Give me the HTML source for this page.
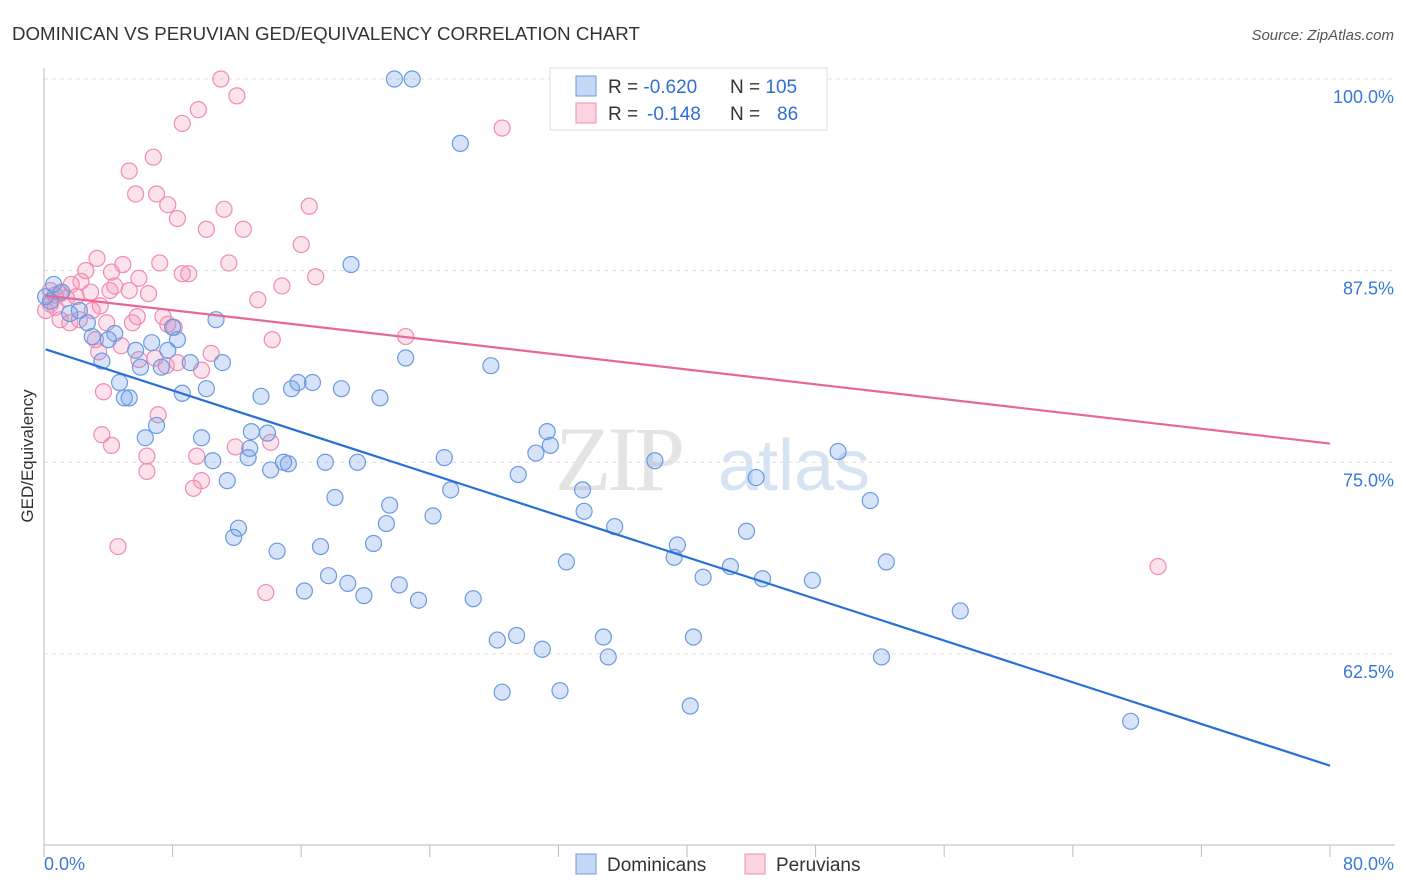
<!DOCTYPE html>
<html><head><meta charset="utf-8"><style>
body{margin:0;background:#fff;font-family:"Liberation Sans",sans-serif}
svg{display:block}
</style></head><body>
<svg id="chart" width="1406" height="892" xmlns="http://www.w3.org/2000/svg">
<text x="12" y="40" font-size="18.7" fill="#333">DOMINICAN VS PERUVIAN GED/EQUIVALENCY CORRELATION CHART</text>
<text x="1394" y="40" font-size="15" fill="#555" text-anchor="end" font-style="italic">Source: ZipAtlas.com</text>
<g><text x="555" y="490" font-size="92" fill="#e4e4e4" font-family="Liberation Serif" letter-spacing="-4">ZIP</text><text x="718" y="490" font-size="72" fill="#d6e3f3">atlas</text></g>
<g id="grid"></g>
<g id="axes"></g>
<g id="pts"></g>
<g id="lines"></g>
<text x="33" y="456" font-size="17" fill="#333" text-anchor="middle" transform="rotate(-90 33 456)">GED/Equivalency</text>
<g>
<rect x="550" y="68" width="277" height="62" fill="#fff" stroke="#ddd"/>
<rect x="576" y="76" width="20" height="20" fill="#c5d9f5" stroke="#6a9be0"/>
<rect x="576" y="103" width="20" height="20" fill="#fbd3e1" stroke="#f08cb0"/>
<text x="608" y="93" font-size="19" fill="#333">R = <tspan fill="#2f6fd6">-0.620</tspan><tspan x="730">N = </tspan><tspan fill="#2f6fd6">105</tspan></text>
<text x="608" y="120" font-size="19" fill="#333">R = <tspan x="647" fill="#2f6fd6">-0.148</tspan><tspan x="730">N = </tspan><tspan x="777" fill="#2f6fd6">86</tspan></text>
</g>
<g>
<rect x="576" y="854" width="20" height="20" fill="#c5d9f5" stroke="#6a9be0"/>
<text x="607" y="871" font-size="19" fill="#333">Dominicans</text>
<rect x="745" y="854" width="20" height="20" fill="#fbd3e1" stroke="#f08cb0"/>
<text x="776" y="871" font-size="19" fill="#333">Peruvians</text>
</g>
</svg>
<script>
const yTicks=[100,87.5,75,62.5];
const yTickLabels=["100.0%","87.5%","75.0%","62.5%"];
const xLabels=["0.0%","80.0%"];
const domX=[28.5,21.8,22.9,25.9,19.1,0.6,1.1,0.1,0.4,2.2,1.6,2.7,10.7,3.0,4.0,4.4,8.0,8.3,6.7,7.7,5.7,3.6,6.0,7.3,9.1,11.1,22.5,27.8,4.7,5.0,5.3,8.6,10.1,13.5,15.4,15.8,16.7,18.5,20.9,7.0,6.3,9.8,12.8,12.9,13.9,31.3,31.5,30.6,10.5,12.7,14.1,14.9,15.2,17.5,19.5,24.9,38.0,49.4,29.5,11.4,25.3,18.1,33.5,21.5,24.2,33.6,35.5,21.3,12.1,11.8,43.7,51.4,44.3,14.5,17.2,20.5,32.5,39.4,39.2,42.7,52.4,17.7,18.9,22.1,16.2,19.9,23.3,41.0,44.7,47.8,26.7,57.0,29.4,28.2,34.8,40.4,31.0,35.1,52.1,32.1,40.2,67.6];
const domY=[60.0,100,100,95.8,87.9,86.6,86.1,85.8,85.5,84.9,84.7,84.1,84.3,83.2,83.0,83.4,83.8,83.0,82.8,82.3,82.3,81.6,81.2,81.2,81.5,81.5,81.8,81.3,80.2,79.2,79.2,79.5,79.8,79.3,79.8,80.2,80.2,79.8,79.2,77.4,76.6,76.6,75.9,77.0,76.9,77.0,76.1,75.6,75.1,75.3,74.5,75.0,74.9,75.0,75.0,75.3,75.1,75.7,74.2,73.8,73.2,72.7,73.2,72.2,71.5,71.8,70.8,71.0,70.7,70.1,70.5,72.5,74.0,69.2,69.5,69.7,68.5,69.6,68.8,68.2,68.5,67.6,67.1,67.0,66.6,66.3,66.0,67.5,67.4,67.3,66.1,65.3,63.7,63.4,63.6,63.6,62.8,62.3,62.3,60.1,59.1,58.1];
const peruX=[11.0,12.0,9.6,8.6,28.5,6.8,5.3,5.7,7.0,7.7,8.3,11.2,16.5,10.1,12.4,16.0,3.3,7.2,11.5,4.9,2.6,4.2,5.9,8.6,9.0,16.9,2.3,13.3,1.7,4.1,14.8,6.5,2.9,1.0,3.5,4.4,5.3,0.4,0.7,1.0,1.6,2.2,3.9,5.5,7.4,7.7,8.1,5.8,22.5,3.2,14.2,4.8,10.4,3.4,8.3,7.6,9.8,6.9,3.7,7.1,3.6,4.2,14.1,11.9,6.4,9.5,9.8,6.4,9.3,4.6,13.8,69.3,0.4,0.1,0.7,1.4,2.0,3.0,5.9];
const peruY=[100.0,98.9,98.0,97.1,96.8,94.9,94.0,92.5,92.5,91.8,90.9,91.5,91.7,90.2,90.2,89.2,88.3,88.0,88.0,87.9,87.5,87.4,87.0,87.3,87.3,87.1,86.8,85.6,86.6,86.2,86.5,86.0,86.1,86.0,85.2,86.5,86.2,85.3,85.1,84.3,84.1,84.3,84.1,84.1,84.5,84.0,83.8,84.5,83.2,83.0,83.0,82.6,82.1,82.2,81.5,81.3,81.0,81.8,79.6,78.1,76.8,76.1,76.3,76.0,75.4,75.4,73.8,74.4,73.3,69.5,66.5,68.2,86.2,84.9,85.9,85.7,85.8,84.9,81.7];
const NS="http://www.w3.org/2000/svg";
const X0=44,X1=1330,Y100=79,PXPER=15.33;
function sx(v){return X0+(X1-X0)*v/80;}
function sy(v){return Y100+(100-v)*PXPER;}
function mk(t,a,p){const e=document.createElementNS(NS,t);for(const k in a)e.setAttribute(k,a[k]);p.appendChild(e);return e;}
const grid=document.getElementById('grid'),axes=document.getElementById('axes');
yTicks.forEach((t,i)=>{
 const l=mk('line',{x1:X0,x2:1395,y1:sy(t),y2:sy(t),stroke:'#ddd','stroke-dasharray':'4,4'},grid);
 
 
 const tx=mk('text',{x:1394,y:sy(t)+24,'font-size':18,fill:'#3a78d8','text-anchor':'end'},axes);
 tx.textContent=yTickLabels[i];
 
 
});
mk('line',{x1:X0,x2:X0,y1:68,y2:845,stroke:'#bbb'},axes);
mk('line',{x1:X0,x2:1395,y1:845,y2:845,stroke:'#bbb'},axes);
for(let i=0;i<=10;i++){const t=mk('line',{x1:sx(i*8),x2:sx(i*8),y1:845,y2:857,stroke:'#bbb'},axes);
 
 }
[[0,'start',X0],[1,'end',1394]].forEach(([i,a,x])=>{const t=mk('text',{x:x,y:870,'font-size':18,fill:'#3a78d8','text-anchor':a},axes);t.textContent=xLabels[i];
 
 });
const pts=document.getElementById('pts'),lines=document.getElementById('lines');
function series(xs,ys,fill,stroke,name,lc){
 const g=mk('g',{},pts);
 
 
 xs.forEach((x,i)=>{const c=mk('circle',{cx:sx(x),cy:sy(ys[i]),r:8,fill:fill,stroke:stroke,'stroke-width':1.2},g);
  
  });
 const n=xs.length;let mx=0,my=0;xs.forEach((x,i)=>{mx+=x;my+=ys[i];});mx/=n;my/=n;
 let sxy=0,sxx=0;xs.forEach((x,i)=>{sxy+=(x-mx)*(ys[i]-my);sxx+=(x-mx)*(x-mx);});
 const b=sxy/sxx,a=my-b*mx;const lo=Math.min(...xs),hi=80;
 const l=mk('line',{x1:sx(lo),y1:sy(a+b*lo),x2:sx(hi),y2:sy(a+b*hi),stroke:lc,'stroke-width':2.2},lines);
 
 
}
series(peruX,peruY,'rgba(244,150,185,0.28)','#f08cb0','peruvians','#e8679a');
series(domX,domY,'rgba(110,155,230,0.28)','#6a9be0','dominicans','#2a6fd6');
</script>
</body></html>
